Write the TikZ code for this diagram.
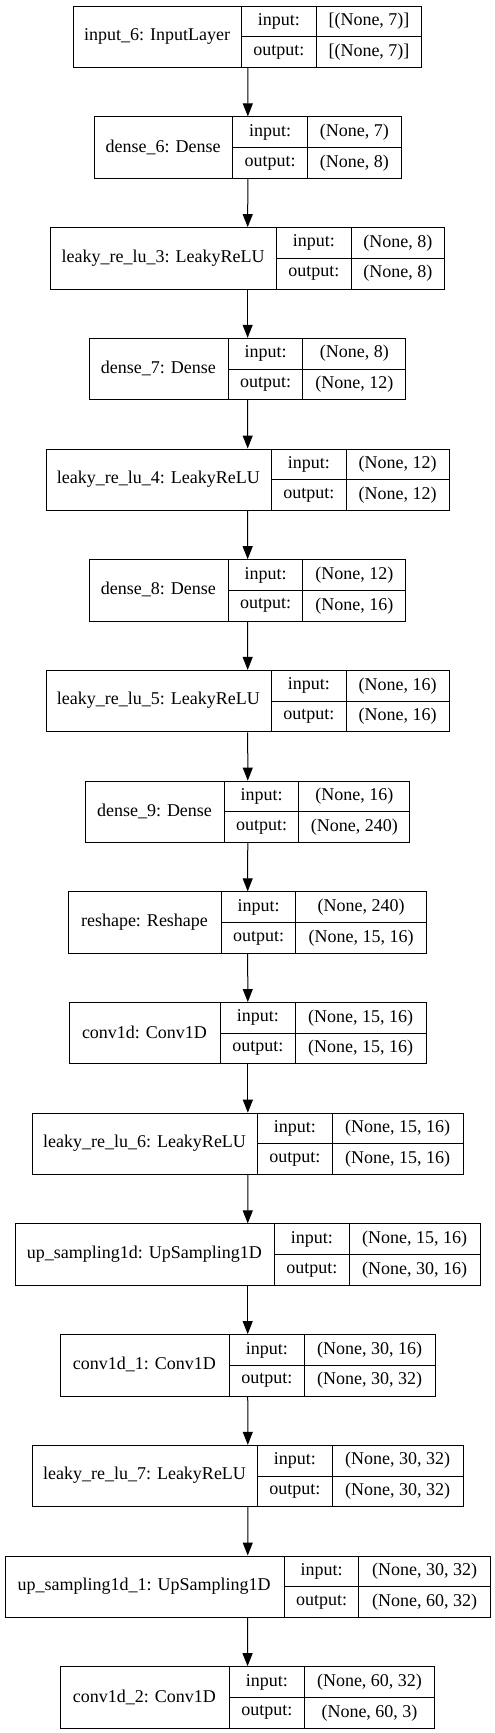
\documentclass[tikz,border=0pt]{standalone}
\usepackage{fontspec}
\setmainfont{Liberation Serif}
\usepackage{tikz}
\usetikzlibrary{positioning, arrows.meta}
\definecolor{edge}{RGB}{0, 0, 0}

% one keras layer record: name, top, left, divider, right, label, input, output
\newcommand{\kerasrow}[8]{%
  \node[rowbox, minimum width={#5-#3}, anchor=north west] (#1) at (#3,#2) {};
  \node (#1-name) at ({(#3+#4)/2},{#2+30.7}) {#6};
  \node[iocell, anchor=north west] (#1-in) at (#4,#2) {input:};
  \node[iocell, anchor=north west] (#1-out) at (#4,{#2+30.7}) {output:};
  \node[valcell, minimum width={#5-#4-74.7}, anchor=north west] (#1-ival) at ({#4+74.7},#2) {#7};
  \node[valcell, minimum width={#5-#4-74.7}, anchor=north west] (#1-oval) at ({#4+74.7},{#2+30.7}) {#8};
}

\begin{document}
\begin{tikzpicture}[x=1pt, y=-1pt,
            every node/.style={font=\fontsize{18}{20}\selectfont, inner sep=1pt},
            rowbox/.style={rectangle, draw=edge, line width=1pt, minimum height=61.4},
            iocell/.style={rectangle, draw=edge, line width=1pt, minimum width=74.7, minimum height=30.7},
            valcell/.style={rectangle, draw=edge, line width=1pt, minimum height=30.7},
            flow/.style={-{Triangle[length=13pt, width=10pt]}, line width=1pt, edge}
        ]
            \useasboundingbox (0,0) rectangle (495,1733);

            \kerasrow{input6}{5.7}{73.3}{241}{421.3}{input\_6: InputLayer}{[(None, 7)]}{[(None, 7)]}
            \kerasrow{dense6}{116.4}{94}{232.3}{400.7}{dense\_6: Dense}{(None, 7)}{(None, 8)}
            \kerasrow{lrelu3}{227.1}{50.3}{276}{444}{leaky\_re\_lu\_3: LeakyReLU}{(None, 8)}{(None, 8)}
            \kerasrow{dense7}{337.8}{89}{227.7}{405.3}{dense\_7: Dense}{(None, 8)}{(None, 12)}
            \kerasrow{lrelu4}{448.5}{45.7}{271}{448.7}{leaky\_re\_lu\_4: LeakyReLU}{(None, 12)}{(None, 12)}
            \kerasrow{dense8}{559.2}{89}{227.7}{405.3}{dense\_8: Dense}{(None, 12)}{(None, 16)}
            \kerasrow{lrelu5}{669.9}{45.7}{271}{448.7}{leaky\_re\_lu\_5: LeakyReLU}{(None, 16)}{(None, 16)}
            \kerasrow{dense9}{780.6}{85.3}{223.7}{409.3}{dense\_9: Dense}{(None, 16)}{(None, 240)}
            \kerasrow{reshape}{891.3}{68.3}{220.7}{426}{reshape: Reshape}{(None, 240)}{(None, 15, 16)}
            \kerasrow{conv1d}{1002}{69}{220}{425.7}{conv1d: Conv1D}{(None, 15, 16)}{(None, 15, 16)}
            \kerasrow{lrelu6}{1112.7}{32}{257}{462.7}{leaky\_re\_lu\_6: LeakyReLU}{(None, 15, 16)}{(None, 15, 16)}
            \kerasrow{upsamp}{1223.4}{14.7}{274}{479.7}{up\_sampling1d: UpSampling1D}{(None, 15, 16)}{(None, 30, 16)}
            \kerasrow{conv1d1}{1334.1}{59.7}{229}{434.7}{conv1d\_1: Conv1D}{(None, 30, 16)}{(None, 30, 32)}
            \kerasrow{lrelu7}{1444.8}{32}{257}{462.7}{leaky\_re\_lu\_7: LeakyReLU}{(None, 30, 32)}{(None, 30, 32)}
            \kerasrow{upsamp1}{1555.5}{4.7}{283.7}{489.7}{up\_sampling1d\_1: UpSampling1D}{(None, 30, 32)}{(None, 60, 32)}
            \kerasrow{conv1d2}{1666.2}{59.7}{229}{434.3}{conv1d\_2: Conv1D}{(None, 60, 32)}{(None, 60, 3)}

            \draw[flow] (input6) -- (dense6);
            \draw[flow] (dense6) -- (lrelu3);
            \draw[flow] (lrelu3) -- (dense7);
            \draw[flow] (dense7) -- (lrelu4);
            \draw[flow] (lrelu4) -- (dense8);
            \draw[flow] (dense8) -- (lrelu5);
            \draw[flow] (lrelu5) -- (dense9);
            \draw[flow] (dense9) -- (reshape);
            \draw[flow] (reshape) -- (conv1d);
            \draw[flow] (conv1d) -- (lrelu6);
            \draw[flow] (lrelu6) -- (upsamp);
            \draw[flow] (upsamp) -- (conv1d1);
            \draw[flow] (conv1d1) -- (lrelu7);
            \draw[flow] (lrelu7) -- (upsamp1);
            \draw[flow] (upsamp1) -- (conv1d2);
        \end{tikzpicture}
\end{document}
